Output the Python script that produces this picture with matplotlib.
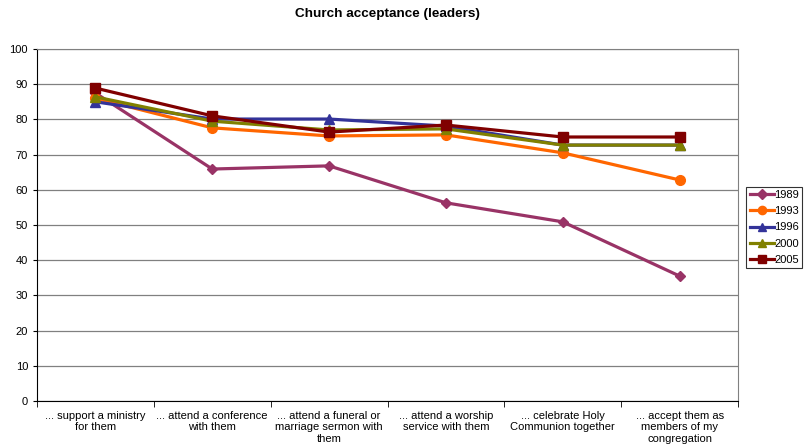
import numpy as np
import matplotlib.pyplot as plt

plt.rcParams['font.family'] = ['Liberation Sans', 'DejaVu Sans']

categories = ['... support a ministry\nfor them',
              '... attend a conference\nwith them',
              '... attend a funeral or\nmarriage sermon with\nthem',
              '... attend a worship\nservice with them',
              '... celebrate Holy\nCommunion together',
              '... accept them as\nmembers of my\ncongregation']

v1989 = [87.5, 65.9, 66.8, 56.3, 50.9, 35.5]
v1993 = [86.0, 77.6, 75.3, 75.6, 70.5, 62.8]
v1996 = [85.0, 80.1, 80.1, 78.1, 72.7, 72.7]
v2000 = [86.4, 79.5, 77.0, 77.3, 72.7, 72.7]
v2005 = [88.9, 81.0, 76.4, 78.4, 75.0, 75.0]

series = [('1989', v1989, '#993366', 'D', 5.5),
          ('1993', v1993, '#FF6600', 'o', 7),
          ('1996', v1996, '#333399', '^', 7),
          ('2000', v2000, '#808000', '^', 7),
          ('2005', v2005, '#800000', 's', 7.5)]

fig = plt.figure(figsize=(8.06, 4.46), dpi=100)
ax = fig.add_axes([37/806, 45/446, 701/806, 352/446])

x = np.arange(len(categories))
for name, vals, col, mk, ms in series:
    ax.plot(x, vals, color=col, marker=mk, markersize=ms, linewidth=2.3,
            label=name, clip_on=False)

ax.set_xlim(-0.5, len(categories) - 0.5)
ax.set_ylim(0, 100)
ax.set_yticks(range(0, 101, 10))
ax.yaxis.grid(True, color='#808080', linewidth=0.9)
ax.set_axisbelow(True)
ax.tick_params(axis='y', labelsize=8, length=3, direction='out')

ax.set_xticks(x)
ax.set_xticklabels(categories, fontsize=8, linespacing=1.2)
ax.set_xticks(np.arange(-0.5, len(categories)), minor=True)
ax.tick_params(axis='x', which='major', length=0, pad=7)
ax.tick_params(axis='x', which='minor', length=4, direction='out')

for s in ['top', 'right']:
    ax.spines[s].set_color('#808080')
ax.spines['left'].set_color('black')
ax.spines['bottom'].set_color('black')

ax.set_title('Church acceptance (leaders)', fontsize=9.7, fontweight='bold', pad=23)

leg = ax.legend(loc='center left', bbox_to_anchor=(1.012, 0.493), fontsize=8,
                frameon=True, fancybox=False, edgecolor='black',
                handlelength=2.2, borderpad=0.3, labelspacing=0.55,
                handletextpad=0.0, borderaxespad=0, markerscale=0.85)
leg.get_frame().set_linewidth(0.8)

fig.savefig('out.png', dpi=100)
